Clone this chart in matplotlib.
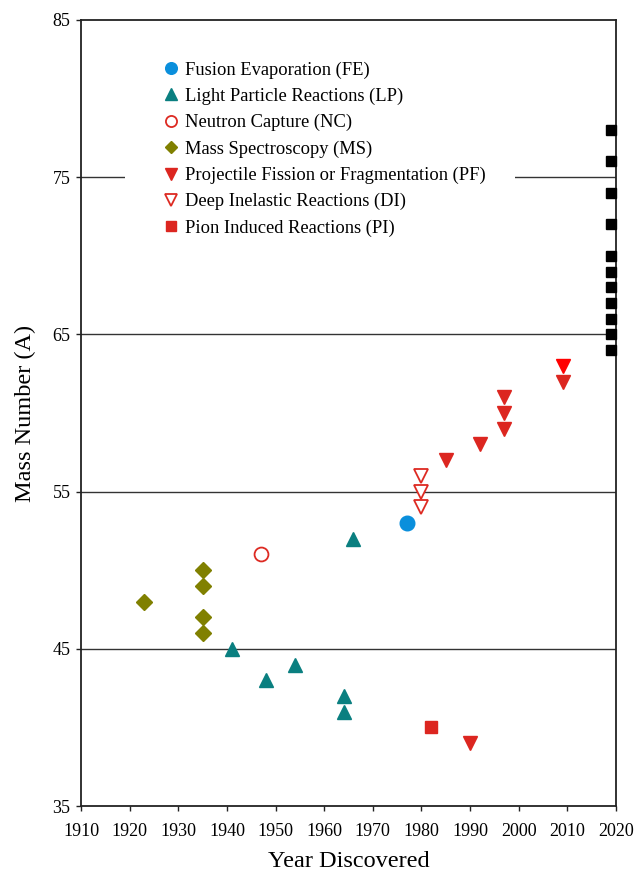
import matplotlib.pyplot as plt

plt.rcParams['font.family'] = ['Liberation Serif', 'DejaVu Serif']

# discovery data: year, mass number
fe_year = [1977]
fe_mass = [53]

lp_year = [1941, 1948, 1954, 1964, 1964, 1966]
lp_mass = [45, 43, 44, 42, 41, 52]

nc_year = [1947]
nc_mass = [51]

ms_year = [1923, 1935, 1935, 1935, 1935]
ms_mass = [48, 50, 49, 47, 46]

pf_year = [1985, 1992, 1997, 1997, 1997, 2009, 1990]
pf_mass = [57, 58, 61, 60, 59, 62, 39]

pf_bright_year = [2009]
pf_bright_mass = [63]

di_year = [1980, 1980, 1980]
di_mass = [56, 55, 54]

pi_year = [1982]
pi_mass = [40]

# not yet discovered
undisc_year = [2019] * 11
undisc_mass = [78, 76, 74, 72, 70, 69, 68, 67, 66, 65, 64]

fig = plt.figure(figsize=(6.41, 8.76), dpi=100)
ax = fig.add_axes([0.1264, 0.0799, 0.961 - 0.1264, 0.9772 - 0.0799])

for y in [45, 55, 65, 75]:
    ax.axhline(y, color='#333333', lw=1.0, zorder=1)

ax.plot(fe_year, fe_mass, 'o', color='#0a8fdc', ms=10.5, ls='none', label='Fusion Evaporation (FE)', zorder=3)
ax.plot(lp_year, lp_mass, '^', color='#0a7f80', ms=10.5, ls='none', label='Light Particle Reactions (LP)', zorder=3)
ax.plot(nc_year, nc_mass, 'o', mfc='white', mec='#dd2a22', mew=1.3, ms=10, ls='none', label='Neutron Capture (NC)', zorder=3)
ax.plot(ms_year, ms_mass, 'D', color='#808000', ms=8, ls='none', label='Mass Spectroscopy (MS)', zorder=3)
ax.plot(pf_year, pf_mass, 'v', color='#dc2620', ms=10.5, ls='none', label='Projectile Fission or Fragmentation (PF)', zorder=3)
ax.plot(pf_bright_year, pf_bright_mass, 'v', color='#ff0000', ms=10.5, ls='none', zorder=3)
ax.plot(di_year, di_mass, 'v', mfc='white', mec='#dd2a22', mew=1.3, ms=10, ls='none', label='Deep Inelastic Reactions (DI)', zorder=3)
ax.plot(pi_year, pi_mass, 's', color='#dc2620', ms=8.5, ls='none', label='Pion Induced Reactions (PI)', zorder=3)
ax.plot(undisc_year, undisc_mass, 's', color='black', ms=7.5, ls='none', zorder=3, clip_on=False)

ax.set_xlim(1910, 2020)
ax.set_ylim(35, 85)
ax.set_xticks(range(1910, 2021, 10))
ax.set_yticks([35, 45, 55, 65, 75, 85])
ax.tick_params(labelsize=13, length=3.5, width=1, direction='out', colors='#222222', labelcolor='black')
ax.tick_params(axis='y', pad=4)
ax.tick_params(axis='x', pad=9)

for side in ['left', 'right', 'top', 'bottom']:
    ax.spines[side].set_color('#222222')
    ax.spines[side].set_linewidth(1.3)

ax.set_xlabel('Year Discovered', fontsize=17.5, labelpad=8)
ax.set_ylabel('Mass Number (A)', fontsize=17.5, labelpad=12)

leg = ax.legend(loc='upper left', bbox_to_anchor=(0.082, 0.985), fontsize=13.3,
                frameon=True, framealpha=1, edgecolor='none', fancybox=False,
                handlelength=1.8, handletextpad=-0.15, labelspacing=0.49,
                borderpad=1.6, borderaxespad=0, markerscale=0.8)
leg.set_zorder(2)

fig.savefig('out.png', dpi=100)
